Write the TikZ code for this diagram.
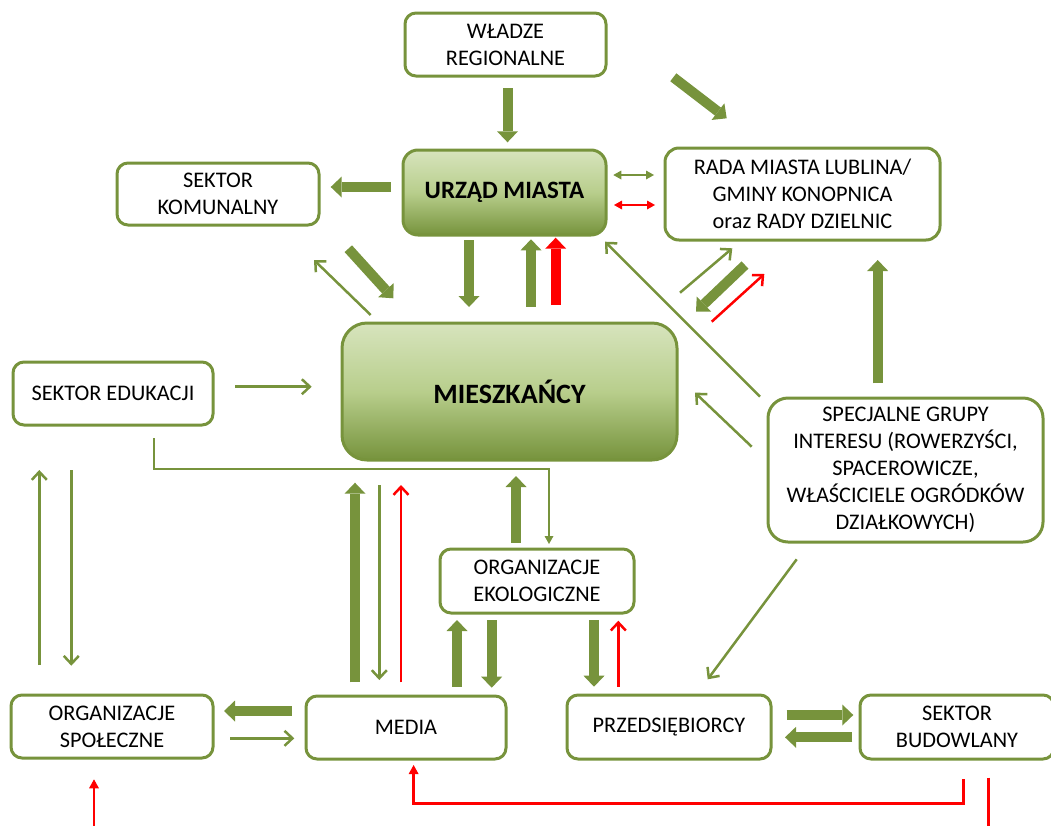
\documentclass[tikz,border=0pt]{standalone}
\usepackage{fontspec}
\setmainfont{Carlito}
\usetikzlibrary{arrows.meta}
\definecolor{gr}{HTML}{77933C}
\definecolor{gl}{HTML}{D7E4BD}
\definecolor{gm}{HTML}{B8CE8C}
\definecolor{gd}{HTML}{76933C}
\definecolor{rd}{HTML}{FF0000}
\tikzset{
  box/.style={draw=gr, line width=3pt, rounded corners=11pt, fill=white, align=center,
    inner sep=0pt, font=\fontsize{22.3}{27}\selectfont},
  gbox/.style={draw=gr, line width=3pt, align=center, inner sep=0pt,
    top color=gl, bottom color=gd, middle color=gm},
  thk/.style={draw=gr, line width=10pt, -{Triangle[width=21pt,length=11pt,line width=0pt]}},
  thkred/.style={thk, draw=rd},
  thn/.style={draw=gr, line width=2.5pt, -{Straight Barb[length=8pt,width=15pt]}},
  thnred/.style={thn, draw=rd},
  thnf/.style={draw=gr, line width=2pt, -{Triangle[width=9pt,length=8pt,line width=0pt]}},
  thnfred/.style={draw=rd, line width=2.5pt, -{Triangle[width=10pt,length=9pt,line width=0pt]}},
  dbl/.style={draw=gr, line width=2pt, {Triangle[width=9pt,length=8pt,line width=0pt]}-{Triangle[width=9pt,length=8pt,line width=0pt]}},
  dblred/.style={dbl, draw=rd, line width=2.5pt}
}
\begin{document}
\begin{tikzpicture}[x=1pt,y=-1pt]
\useasboundingbox (0,0) rectangle (1051,825);

% boxes
\node[box, minimum width=201pt, minimum height=63pt] (wladze) at (505.5,44.5) {WŁADZE\\REGIONALNE};
\node[gbox, rounded corners=15pt, minimum width=203pt, minimum height=85pt, font=\fontsize{25}{28}\selectfont\bfseries] (urzad) at (504.5,192.5) {URZĄD MIASTA};
\node[box, minimum width=202pt, minimum height=62pt] (komunal) at (218,194) {SEKTOR\\KOMUNALNY};
\node[box, rounded corners=14pt, minimum width=275pt, minimum height=92pt] (rada) at (802.5,194) {RADA MIASTA LUBLINA/\\GMINY KONOPNICA\\oraz RADY DZIELNIC};
\node[gbox, rounded corners=25pt, minimum width=335pt, minimum height=137pt, font=\fontsize{28}{31}\selectfont\bfseries] (mieszk) at (509.5,391.5) {MIESZKAŃCY};
\node[box, minimum width=200pt, minimum height=63pt] (eduk) at (113,393.5) {SEKTOR EDUKACJI};
\node[box, rounded corners=20pt, minimum width=275pt, minimum height=144pt] (spec) at (905.5,470) {SPECJALNE GRUPY\\INTERESU (ROWERZYŚCI,\\SPACEROWICZE,\\WŁAŚCICIELE OGRÓDKÓW\\DZIAŁKOWYCH)};
\node[box, minimum width=194pt, minimum height=64pt] (eko) at (537,581) {ORGANIZACJE\\EKOLOGICZNE};
\node[box, minimum width=202pt, minimum height=63pt] (spol) at (112,726.5) {ORGANIZACJE\\SPOŁECZNE};
\node[box, minimum width=200pt, minimum height=63pt] (media) at (406,727.5) {MEDIA};
\node[box, minimum width=204pt, minimum height=64pt] (przed) at (669,727) {PRZEDSIĘBIORCY};
\node[box, minimum width=194pt, minimum height=64pt] (budow) at (957,727) {SEKTOR\\BUDOWLANY};

% coordinates of connector ends
\coordinate (a1s) at (507.5,88);    \coordinate (a1e) at (507.5,142.3);
\coordinate (a2s) at (391,187);     \coordinate (a2e) at (330.7,187);
\coordinate (a4s) at (469,240);     \coordinate (a4e) at (469,307);
\coordinate (a5s) at (531,306.7);   \coordinate (a5e) at (531,239.3);
\coordinate (a6s) at (555.7,305);   \coordinate (a6e) at (555.7,237.7);
\coordinate (a7s) at (348.3,248.7); \coordinate (a7e) at (393.3,298.3);
\coordinate (a9s) at (673.3,77.3);  \coordinate (a9e) at (726.7,118.3);
\coordinate (a13s) at (745,265);    \coordinate (a13e) at (696,311.7);
\coordinate (a15s) at (877.7,383.3);\coordinate (a15e) at (877.7,260);
\coordinate (a19s) at (355,682.3);  \coordinate (a19e) at (355,482.7);
\coordinate (a22s) at (516,542.7);  \coordinate (a22e) at (516,476);
\coordinate (a23s) at (457,686.7);  \coordinate (a23e) at (457,620);
\coordinate (a24s) at (491.7,620);  \coordinate (a24e) at (491.7,687.7);
\coordinate (a25s) at (594,620);    \coordinate (a25e) at (594,686.7);
\coordinate (a28s) at (786.7,715);  \coordinate (a28e) at (853.3,715);
\coordinate (a29s) at (852.3,737.3);\coordinate (a29e) at (785,737.3);
\coordinate (a30s) at (291.7,711);  \coordinate (a30e) at (224,711);

\coordinate (b8s) at (370.7,315);   \coordinate (b8e) at (314,260);
\coordinate (b10s) at (760,396.7);  \coordinate (b10e) at (605,241.7);
\coordinate (b11s) at (751.7,446.7);\coordinate (b11e) at (695,392.7);
\coordinate (b12s) at (680,292.7);  \coordinate (b12e) at (732.3,248.3);
\coordinate (b16s) at (235,386.7);  \coordinate (b16e) at (311.7,386.7);
\coordinate (b18s) at (39.3,665);   \coordinate (b18e) at (39.3,470);
\coordinate (b19s) at (71.3,470);   \coordinate (b19e) at (71.3,665.7);
\coordinate (b20s) at (379.3,485);  \coordinate (b20e) at (379.3,680);
\coordinate (b27s) at (796.7,559.3);\coordinate (b27e) at (707.7,679.3);
\coordinate (b31s) at (230,738.3);  \coordinate (b31e) at (294.3,738.3);

\coordinate (c17s) at (154.3,438.3); \coordinate (c17a) at (154.3,469.3);
\coordinate (c17b) at (549,469.3);   \coordinate (c17e) at (549,544);
\coordinate (d3s) at (613.3,175);    \coordinate (d3e) at (654,175);
\coordinate (d3rs) at (614,205);     \coordinate (d3re) at (655,205);

\coordinate (r14s) at (711.7,321.7); \coordinate (r14e) at (764.3,274);
\coordinate (r21s) at (401,682.3);   \coordinate (r21e) at (401,485);
\coordinate (r26s) at (618.3,686.7); \coordinate (r26e) at (618.3,620.7);
\coordinate (rms) at (963.3,779);    \coordinate (rma) at (963.3,803.3);
\coordinate (rmb) at (413.6,803.3);  \coordinate (rme) at (413.6,765);
\coordinate (rss) at (94,826);       \coordinate (rse) at (94,779.3);
\coordinate (rbs) at (988.3,777.7);  \coordinate (rbe) at (988.3,826);

% thick arrows
\foreach \a in {a1,a2,a4,a5,a7,a9,a13,a15,a19,a22,a23,a24,a25,a28,a29,a30}
  \draw[thk] (\a s) -- (\a e);
\draw[thkred] (a6s) -- (a6e);

% thin open arrows
\foreach \b in {b8,b10,b11,b12,b16,b18,b19,b20,b27,b31}
  \draw[thn] (\b s) -- (\b e);
\foreach \r in {r14,r21,r26}
  \draw[thnred] (\r s) -- (\r e);

% thin filled
\draw[thnf] (c17s) -- (c17a) -- (c17b) -- (c17e);
\draw[dbl] (d3s) -- (d3e);
\draw[dblred] (d3rs) -- (d3re);
\draw[thnfred] (rms) -- (rma) -- (rmb) -- (rme);
\draw[thnfred] (rss) -- (rse);
\draw[draw=rd, line width=2.5pt] (rbs) -- (rbe);
\end{tikzpicture}
\end{document}
